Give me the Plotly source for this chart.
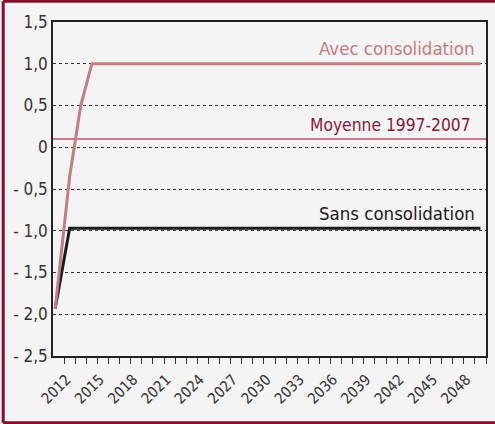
import plotly.graph_objects as go

years = [2011.7] + list(range(2013, 2051))
avec = [-1.93, -0.35, 0.5] + [1.0] * 36
sans = [-1.93] + [-0.97] * 38
moyenne_val = 0.1
moyenne_x = [2011.5, 2050.5]

y_ticks = [1.5, 1.0, 0.5, 0, -0.5, -1.0, -1.5, -2.0, -2.5]
y_labels = ["1,5", "1,0", "0,5", "0", "- 0,5", "- 1,0", "- 1,5", "- 2,0", "- 2,5"]
x_labels = list(range(2012, 2049, 3))
x_minor = [y + 0.5 for y in range(2012, 2051)]

FONT = "DejaVu Sans Condensed, Noto Sans, sans-serif"
ROSE = "#c47d80"
DARKRED = "#8b1538"
BORDER = "#8a0b30"

fig = go.Figure()
fig.add_trace(go.Scatter(x=moyenne_x, y=[moyenne_val, moyenne_val], mode="lines",
                         line=dict(color="#c0506a", width=1.5), hoverinfo="skip"))
fig.add_trace(go.Scatter(x=years, y=sans, mode="lines",
                         line=dict(color="#1a1a1a", width=3)))
fig.add_trace(go.Scatter(x=years, y=avec, mode="lines",
                         line=dict(color=ROSE, width=3)))

fig.update_layout(
    width=495, height=424,
    margin=dict(l=53, r=9, t=22, b=68, autoexpand=False),
    paper_bgcolor="#f4f4f4", plot_bgcolor="#f4f4f4",
    showlegend=False,
    font=dict(family=FONT, color="#333333", size=15),
    xaxis=dict(range=[2011.5, 2050.5], tickvals=x_labels, ticktext=[str(v) for v in x_labels],
               tickangle=-45, ticks="", showgrid=False, zeroline=False,
               showline=True, linecolor="#222", linewidth=1.5, mirror=True,
               tickfont=dict(size=15), automargin=False,
               ticklabelshift=8, ticklabelstandoff=7,
               minor=dict(tickvals=x_minor, ticks="outside", ticklen=6, tickcolor="#333", tickwidth=1, showgrid=False)),
    yaxis=dict(range=[-2.5, 1.5], tickvals=y_ticks, ticktext=y_labels, ticks="",
               showgrid=True, gridcolor="#333", griddash="dot", gridwidth=1, automargin=False,
               zeroline=False, showline=True, linecolor="#222", linewidth=1.5, mirror=True,
               tickfont=dict(size=17)),
)

fig.add_annotation(x=2049.6, y=1.0, text="Avec consolidation", showarrow=False,
                   xanchor="right", yanchor="bottom", yshift=3, font=dict(color=ROSE, size=18.5, family=FONT))
fig.add_annotation(x=2049.3, y=moyenne_val, text="Moyenne 1997-2007", showarrow=False,
                   xanchor="right", yanchor="bottom", yshift=2, font=dict(color=DARKRED, size=17.3, family=FONT))
fig.add_annotation(x=2049.7, y=-0.97, text="Sans consolidation", showarrow=False,
                   xanchor="right", yanchor="bottom", yshift=2, font=dict(color="#1a1a1a", size=18.5, family=FONT))

# frame: top, left and bottom edges
for (a0, b0, a1, b1) in [(-0.115, 1.062, 1.1, 1.062), (-0.115, 1.062, -0.115, -0.2), (-0.115, -0.2, 1.1, -0.2)]:
    fig.add_shape(type="line", xref="paper", yref="paper", x0=a0, y0=b0, x1=a1, y1=b1,
                  line=dict(color=BORDER, width=3), layer="above")

fig.write_html("out.html", config={"displayModeBar": False},
               post_script="document.body.style.margin='0';document.body.style.padding='0';document.body.style.overflow='hidden';")
